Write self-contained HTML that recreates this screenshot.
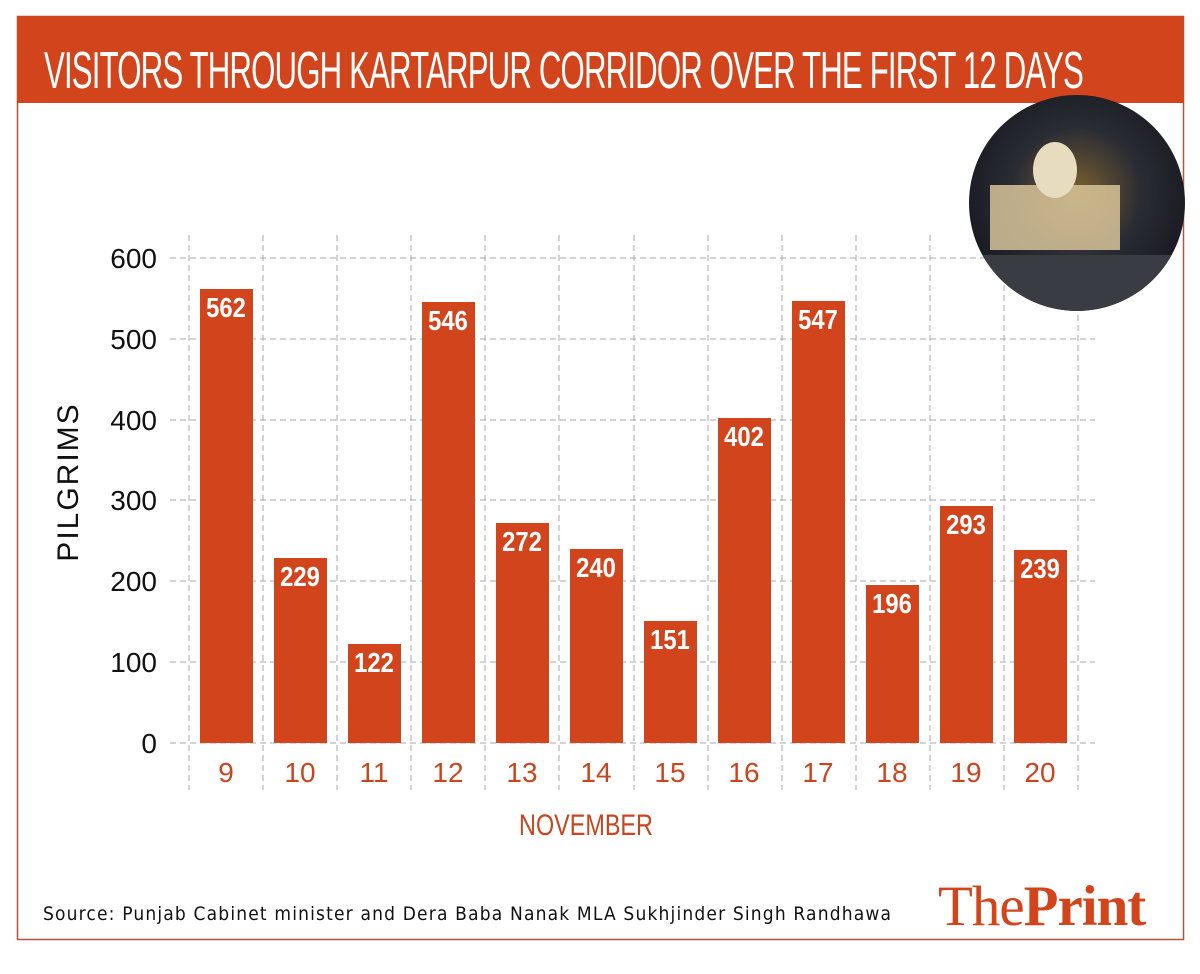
<!DOCTYPE html><html><head><style>
body{margin:0;background:#fff;width:1200px;height:969px;overflow:hidden;font-family:"Liberation Sans",sans-serif}
</style></head><body>
<svg width="1200" height="969" xmlns="http://www.w3.org/2000/svg">
<rect x="17.5" y="16.5" width="1166" height="923" fill="none" stroke="#b5533c" stroke-width="1.5"/>
<rect x="17" y="16" width="1167" height="87" fill="#d1441c"/>
<text x="44" y="88" fill="#fff" font-size="52" font-family="Liberation Sans" transform="translate(44 0) scale(0.6 1) translate(-44 0)" textLength="1733">VISITORS THROUGH KARTARPUR CORRIDOR OVER THE FIRST 12 DAYS</text>
<g stroke="#aaa" stroke-dasharray="6 4" stroke-width="1">
<line x1="170" x2="1095" y1="258" y2="258"/><line x1="170" x2="1095" y1="339" y2="339"/><line x1="170" x2="1095" y1="420" y2="420"/><line x1="170" x2="1095" y1="500" y2="500"/><line x1="170" x2="1095" y1="581" y2="581"/><line x1="170" x2="1095" y1="662" y2="662"/><line x1="170" x2="1095" y1="743" y2="743"/>
<line x1="189" x2="189" y1="235" y2="790"/><line x1="263" x2="263" y1="235" y2="790"/><line x1="337" x2="337" y1="235" y2="790"/><line x1="411" x2="411" y1="235" y2="790"/><line x1="485" x2="485" y1="235" y2="790"/><line x1="559" x2="559" y1="235" y2="790"/><line x1="634" x2="634" y1="235" y2="790"/><line x1="708" x2="708" y1="235" y2="790"/><line x1="782" x2="782" y1="235" y2="790"/><line x1="856" x2="856" y1="235" y2="790"/><line x1="930" x2="930" y1="235" y2="790"/><line x1="1004" x2="1004" y1="235" y2="790"/><line x1="1078" x2="1078" y1="235" y2="790"/>
</g>
<g font-size="28" fill="#111" text-anchor="end">
<text x="157" y="268">600</text><text x="157" y="349">500</text><text x="157" y="430">400</text><text x="157" y="510">300</text><text x="157" y="591">200</text><text x="157" y="672">100</text><text x="157" y="753">0</text>
</g>
<text transform="translate(78 482) rotate(-90)" font-size="30" fill="#111" text-anchor="middle" letter-spacing="2">PILGRIMS</text>
<g fill="#d1441c">
<rect x="200" y="289" width="53" height="454"/><rect x="274" y="558" width="53" height="185"/><rect x="348" y="644" width="53" height="99"/><rect x="422" y="302" width="53" height="441"/><rect x="496" y="523" width="53" height="220"/><rect x="570" y="549" width="53" height="194"/><rect x="644" y="621" width="53" height="122"/><rect x="718" y="418" width="53" height="325"/><rect x="792" y="301" width="53" height="442"/><rect x="866" y="585" width="53" height="158"/><rect x="940" y="506" width="53" height="237"/><rect x="1014" y="550" width="53" height="193"/>
</g>
<g fill="#fff" font-size="28" font-weight="bold" text-anchor="middle">
<text x="226" y="317" transform="translate(226 0) scale(0.85 1) translate(-226 0)">562</text><text x="300" y="586" transform="translate(300 0) scale(0.85 1) translate(-300 0)">229</text><text x="374" y="672" transform="translate(374 0) scale(0.85 1) translate(-374 0)">122</text><text x="448" y="330" transform="translate(448 0) scale(0.85 1) translate(-448 0)">546</text><text x="522" y="551" transform="translate(522 0) scale(0.85 1) translate(-522 0)">272</text><text x="596" y="577" transform="translate(596 0) scale(0.85 1) translate(-596 0)">240</text><text x="670" y="649" transform="translate(670 0) scale(0.85 1) translate(-670 0)">151</text><text x="744" y="446" transform="translate(744 0) scale(0.85 1) translate(-744 0)">402</text><text x="818" y="329" transform="translate(818 0) scale(0.85 1) translate(-818 0)">547</text><text x="892" y="613" transform="translate(892 0) scale(0.85 1) translate(-892 0)">196</text><text x="966" y="534" transform="translate(966 0) scale(0.85 1) translate(-966 0)">293</text><text x="1040" y="578" transform="translate(1040 0) scale(0.85 1) translate(-1040 0)">239</text>
</g>
<g fill="#c8461f" font-size="28" text-anchor="middle">
<text x="226" y="782">9</text><text x="300" y="782">10</text><text x="374" y="782">11</text><text x="448" y="782">12</text><text x="522" y="782">13</text><text x="596" y="782">14</text><text x="670" y="782">15</text><text x="744" y="782">16</text><text x="818" y="782">17</text><text x="892" y="782">18</text><text x="966" y="782">19</text><text x="1040" y="782">20</text>
</g>
<text x="586" y="835" fill="#c8461f" font-size="30" text-anchor="middle" transform="translate(586 0) scale(0.78 1) translate(-586 0)">NOVEMBER</text>
<text x="43" y="920" fill="#111" font-size="19" textLength="848" font-family="DejaVu Sans Condensed, DejaVu Sans, sans-serif">Source: Punjab Cabinet minister and Dera Baba Nanak MLA Sukhjinder Singh Randhawa</text>
<text x="938" y="925" fill="#d1441c" font-size="57" font-family="Liberation Serif, serif" letter-spacing="-1">The<tspan font-weight="bold">Print</tspan></text>
<defs><radialGradient id="g" cx="0.5" cy="0.45" r="0.6"><stop offset="0" stop-color="#7a6030"/><stop offset="0.5" stop-color="#2a2c34"/><stop offset="1" stop-color="#15161c"/></radialGradient>
<clipPath id="c"><circle cx="1077" cy="203" r="108"/></clipPath></defs>
<circle cx="1077" cy="203" r="108" fill="url(#g)"/>
<g clip-path="url(#c)">
<rect x="990" y="185" width="130" height="65" fill="#d8c49a" opacity="0.85"/>
<ellipse cx="1055" cy="170" rx="22" ry="28" fill="#e8dcc0"/>
<rect x="960" y="255" width="240" height="60" fill="#3a3c44"/>
</g>
</svg>
</body></html>
